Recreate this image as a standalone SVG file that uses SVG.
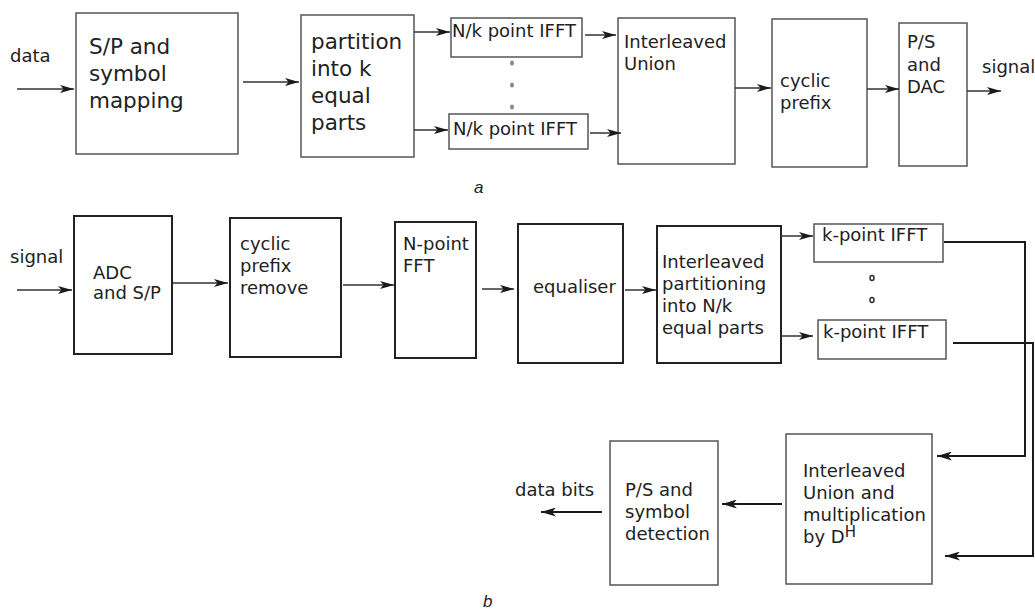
<svg xmlns="http://www.w3.org/2000/svg" width="1035" height="612" viewBox="0 0 1035 612">
  <defs>
    <marker id="arrow" viewBox="0 0 14 8" refX="14" refY="4" markerWidth="14" markerHeight="8" markerUnits="userSpaceOnUse" orient="auto">
      <path d="M0,0 L14,4 L0,8 L3.5,4 z" fill="#1a1a1a"/>
    </marker>
    <marker id="arrowB" viewBox="0 0 15 9" refX="15" refY="4.5" markerWidth="15" markerHeight="9" markerUnits="userSpaceOnUse" orient="auto">
      <path d="M0,0 L15,4.5 L0,9 L4,4.5 z" fill="#1a1a1a"/>
    </marker>
  </defs>
  <style>
    text { font-family: "DejaVu Sans", "Liberation Sans", sans-serif; fill: #222; font-size: 18px; }
    .big { font-size: 21.5px; }
    .cap { font-family: "Liberation Sans", "DejaVu Sans", sans-serif; font-style: italic; font-size: 17px; }
    .boxA { fill: #fff; stroke: #555; stroke-width: 1.5; }
    .boxB { fill: #fff; stroke: #222; stroke-width: 2; }
    .wire { fill: none; stroke: #333; stroke-width: 1.5; marker-end: url(#arrow); }
    .wireB { fill: none; stroke: #1a1a1a; stroke-width: 2; marker-end: url(#arrowB); }
    .dotA { fill: #888; }
    .dotB { fill: none; stroke: #333; stroke-width: 1.5; }
  </style>
  <rect width="1035" height="612" fill="#fff"/>

  <!-- Transmitter (a) -->
  <g id="tx-sp">
    <rect class="boxA" x="76" y="13" width="162" height="141"/>
    <text class="big" x="89" y="54">S/P and</text>
    <text class="big" x="89" y="81">symbol</text>
    <text class="big" x="89" y="108">mapping</text>
  </g>
  <g id="tx-partition">
    <rect class="boxA" x="301" y="15" width="113" height="142"/>
    <text class="big" x="311" y="49">partition</text>
    <text class="big" x="311" y="76">into k</text>
    <text class="big" x="311" y="103">equal</text>
    <text class="big" x="311" y="130">parts</text>
  </g>
  <g id="tx-ifft1">
    <rect class="boxA" x="451" y="18" width="131" height="39"/>
    <text x="452" y="37">N/k point IFFT</text>
  </g>
  <g id="tx-dots">
    <ellipse class="dotA" cx="512" cy="63" rx="2" ry="2.5"/>
    <ellipse class="dotA" cx="512" cy="85" rx="2" ry="2.5"/>
    <ellipse class="dotA" cx="512" cy="107" rx="2" ry="2.5"/>
  </g>
  <g id="tx-ifft2">
    <rect class="boxA" x="449" y="114" width="139" height="35"/>
    <text x="453" y="135">N/k point IFFT</text>
  </g>
  <g id="tx-union">
    <rect class="boxA" x="618" y="18" width="117" height="146"/>
    <text x="624" y="48">Interleaved</text>
    <text x="624" y="70">Union</text>
  </g>
  <g id="tx-cp">
    <rect class="boxA" x="772" y="19" width="95" height="148"/>
    <text x="780" y="87">cyclic</text>
    <text x="780" y="109">prefix</text>
  </g>
  <g id="tx-dac">
    <rect class="boxA" x="899" y="23" width="68" height="143"/>
    <text x="907" y="48">P/S</text>
    <text x="907" y="71">and</text>
    <text x="907" y="93">DAC</text>
  </g>
  <text x="10" y="62" font-size="17.5">data</text>
  <text x="982" y="73">signal</text>
  <text class="cap" x="474" y="193">a</text>

  <!-- Receiver (b) -->
  <g id="rx-adc">
    <rect class="boxB" x="74" y="216" width="98" height="138"/>
    <text x="93" y="279">ADC</text>
    <text x="93" y="299">and S/P</text>
  </g>
  <g id="rx-cp">
    <rect class="boxB" x="230" y="218" width="111" height="139"/>
    <text x="240" y="250">cyclic</text>
    <text x="240" y="272">prefix</text>
    <text x="240" y="294">remove</text>
  </g>
  <g id="rx-fft">
    <rect class="boxB" x="395" y="222" width="81" height="136"/>
    <text x="403" y="250">N-point</text>
    <text x="403" y="272">FFT</text>
  </g>
  <g id="rx-eq">
    <rect class="boxB" x="518" y="224" width="105" height="139"/>
    <text x="533" y="293">equaliser</text>
  </g>
  <g id="rx-partition">
    <rect class="boxB" x="657" y="226" width="124" height="137"/>
    <text x="662" y="268">Interleaved</text>
    <text x="662" y="290">partitioning</text>
    <text x="662" y="312">into N/k</text>
    <text x="662" y="334">equal parts</text>
  </g>
  <g id="rx-ifft1">
    <rect class="boxA" x="814" y="224" width="129" height="38"/>
    <text x="822" y="241">k-point IFFT</text>
  </g>
  <g id="rx-dots">
    <ellipse class="dotB" cx="872" cy="278" rx="2" ry="2.5"/>
    <ellipse class="dotB" cx="872" cy="300" rx="2" ry="2.5"/>
  </g>
  <g id="rx-ifft2">
    <rect class="boxA" x="818" y="320" width="128" height="39"/>
    <text x="823" y="338">k-point IFFT</text>
  </g>
  <g id="rx-union">
    <rect class="boxA" x="786" y="434" width="146" height="150"/>
    <text x="803" y="477">Interleaved</text>
    <text x="803" y="499">Union and</text>
    <text x="803" y="521">multiplication</text>
    <text x="803" y="543">by D<tspan dy="-6" font-size="15">H</tspan></text>
  </g>
  <g id="rx-detect">
    <rect class="boxA" x="610" y="441" width="108" height="144"/>
    <text x="625" y="496">P/S and</text>
    <text x="625" y="518">symbol</text>
    <text x="625" y="540">detection</text>
  </g>
  <text x="10" y="263">signal</text>
  <text x="515" y="496">data bits</text>
  <text class="cap" x="483" y="607">b</text>

  <!-- Connectors -->
  <g id="connectors">
    <line class="wire" x1="17" y1="89" x2="74" y2="89"/>
    <line class="wire" x1="243" y1="82" x2="299" y2="82"/>
    <line class="wire" x1="414" y1="32" x2="450" y2="32"/>
    <line class="wire" x1="414" y1="130" x2="448" y2="130"/>
    <line class="wire" x1="585" y1="35" x2="616" y2="35"/>
    <line class="wire" x1="590" y1="133" x2="621" y2="133"/>
    <line class="wire" x1="735" y1="88" x2="771" y2="88"/>
    <line class="wire" x1="867" y1="89" x2="899" y2="89"/>
    <line class="wire" x1="967" y1="91" x2="1001" y2="91"/>

    <line class="wire" x1="17" y1="290" x2="72" y2="290"/>
    <line class="wire" x1="173" y1="283" x2="228" y2="283"/>
    <line class="wire" x1="343" y1="285" x2="394" y2="285"/>
    <line class="wire" x1="482" y1="289" x2="514" y2="289"/>
    <line class="wire" x1="625" y1="290" x2="656" y2="290"/>
    <line class="wire" x1="781" y1="236" x2="813" y2="236"/>
    <line class="wire" x1="781" y1="336" x2="813" y2="336"/>
    <polyline class="wireB" points="944,242 1025,242 1025,456 937,456"/>
    <polyline class="wireB" points="953,343 1033,343 1033,556 945,556"/>
    <line class="wireB" x1="782" y1="504" x2="722" y2="504"/>
    <line class="wireB" x1="602" y1="512" x2="541" y2="512"/>
  </g>
</svg>
